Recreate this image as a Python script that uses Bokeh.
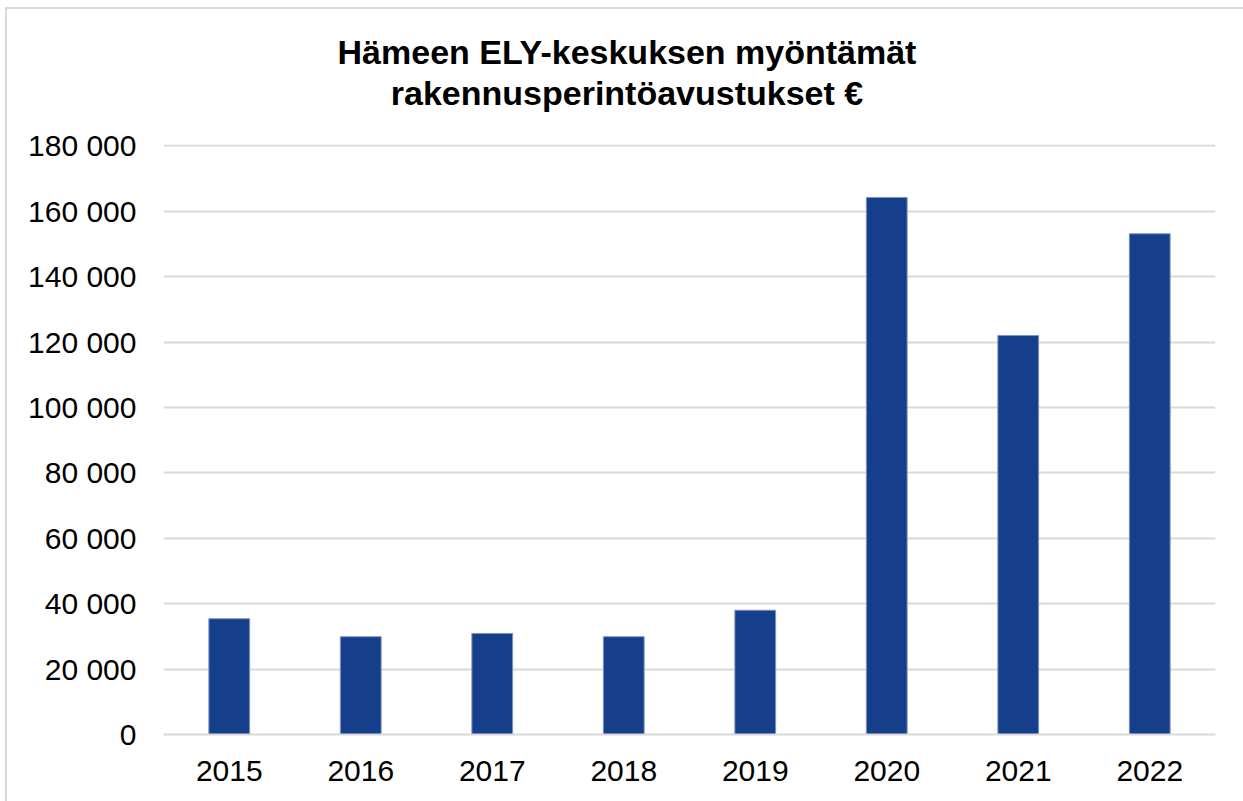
from bokeh.plotting import figure
from bokeh.layouts import column
from bokeh.models import Div, CustomJSTickFormatter, FixedTicker, Range1d, FactorRange
from bokeh.embed import file_html
from bokeh.resources import INLINE

years = ["2015", "2016", "2017", "2018", "2019", "2020", "2021", "2022"]
values = [35400, 29900, 30900, 29900, 38000, 164200, 122000, 153100]
y_ticks = [0, 20000, 40000, 60000, 80000, 100000, 120000, 140000, 160000, 180000]
title_line1 = "Hämeen ELY-keskuksen myöntämät"
title_line2 = "rakennusperintöavustukset €"

FONT = "Liberation Sans"
TITLE_H = 115

title_div = Div(
    text=(f"<div style=\"width:1236px;text-align:center;font-family:'{FONT}';font-weight:bold;"
          f"font-size:34px;line-height:41px;color:#000;padding-top:23px;padding-left:4px\">"
          f"{title_line1}<br>{title_line2}</div>"),
    width=1236, height=TITLE_H, margin=0)

p = figure(x_range=FactorRange(*years, range_padding=0), y_range=Range1d(0, 180400),
           width=1236, height=792 - TITLE_H, output_backend="svg", toolbar_location=None,
           min_border_left=156, min_border_right=28, min_border_bottom=67,
           min_border_top=135 - TITLE_H)
p.title.visible = False
p.margin = 0

p.vbar(x=years, top=values, width=0.31, fill_color="#153F8B", line_color="#7d93c2", line_width=1)

p.outline_line_color = None
p.background_fill_color = "white"
p.border_fill_color = "white"

p.xgrid.grid_line_color = None
p.ygrid.grid_line_color = "#d9d9d9"
p.ygrid.grid_line_width = 2
p.yaxis.ticker = FixedTicker(ticks=y_ticks)
p.yaxis.formatter = CustomJSTickFormatter(code="""
return Math.round(tick).toString().replace(/\\B(?=(\\d{3})+(?!\\d))/g, "\u00a0");
""")
for ax in (p.xaxis, p.yaxis):
    ax.axis_line_color = None
    ax.major_tick_line_color = None
    ax.minor_tick_line_color = None
    ax.major_label_text_font = FONT
    ax.major_label_text_font_size = "30px"
    ax.major_label_text_color = "#000000"
p.xaxis.axis_line_color = "#d9d9d9"
p.xaxis.axis_line_width = 2
p.yaxis.major_label_standoff = 21
p.xaxis.major_label_standoff = 20

layout = column(title_div, p, spacing=0)
layout.margin = (9, 0, 0, 7)
layout.styles = {"outline": "2px solid #d9d9d9", "background": "white"}

open("out.html", "w").write(file_html(layout, INLINE))
